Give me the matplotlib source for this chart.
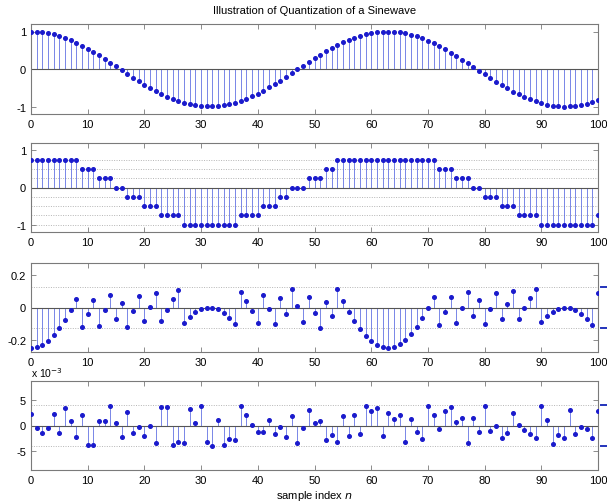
import matplotlib
matplotlib.use("Agg")
import matplotlib.pyplot as plt
import numpy as np

plt.rcParams['font.family'] = ['Liberation Sans', 'DejaVu Sans']

n = list(range(101))

# original sinewave samples
signal = [1.000, 0.995, 0.980, 0.955, 0.921, 0.878, 0.825, 0.765, 0.697, 0.622,
          0.540, 0.454, 0.362, 0.267, 0.170, 0.071, -0.029, -0.129, -0.227, -0.323,
          -0.416, -0.505, -0.589, -0.666, -0.737, -0.801, -0.857, -0.904, -0.942, -0.971,
          -0.990, -0.999, -0.998, -0.988, -0.967, -0.936, -0.897, -0.848, -0.791, -0.726,
          -0.654, -0.575, -0.490, -0.401, -0.307, -0.211, -0.112, -0.013, 0.087, 0.186,
          0.284, 0.378, 0.468, 0.554, 0.635, 0.709, 0.776, 0.835, 0.885, 0.927,
          0.960, 0.983, 0.997, 1.000, 0.993, 0.977, 0.950, 0.914, 0.869, 0.816,
          0.754, 0.685, 0.608, 0.526, 0.439, 0.347, 0.251, 0.153, 0.054, -0.046,
          -0.146, -0.244, -0.339, -0.431, -0.519, -0.602, -0.678, -0.747, -0.809, -0.863,
          -0.911, -0.948, -0.975, -0.992, -1.000, -0.997, -0.985, -0.962, -0.930, -0.889,
          -0.839]

# 3-bit quantized samples (second panel)
quantized = [0.75, 0.75, 0.75, 0.75, 0.75, 0.75, 0.75, 0.75, 0.75, 0.5,
             0.5, 0.5, 0.25, 0.25, 0.25, 0.0, 0.0, -0.25, -0.25, -0.25,
             -0.5, -0.5, -0.5, -0.75, -0.75, -0.75, -0.75, -1.0, -1.0, -1.0,
             -1.0, -1.0, -1.0, -1.0, -1.0, -1.0, -1.0, -0.75, -0.75, -0.75,
             -0.75, -0.5, -0.5, -0.5, -0.25, -0.25, 0.0, 0.0, 0.0, 0.25,
             0.25, 0.25, 0.5, 0.5, 0.75, 0.75, 0.75, 0.75, 0.75, 0.75,
             0.75, 0.75, 0.75, 0.75, 0.75, 0.75, 0.75, 0.75, 0.75, 0.75,
             0.75, 0.75, 0.5, 0.5, 0.5, 0.25, 0.25, 0.25, 0.0, 0.0,
             -0.25, -0.25, -0.25, -0.5, -0.5, -0.5, -0.75, -0.75, -0.75, -0.75,
             -1.0, -1.0, -1.0, -1.0, -1.0, -1.0, -1.0, -1.0, -1.0, -1.0,
             -0.75]

# quantization error of the 3-bit quantizer (third panel)
error3 = [-0.250, -0.245, -0.230, -0.205, -0.171, -0.128, -0.075, -0.015, 0.053, -0.122,
          -0.040, 0.046, -0.112, -0.018, 0.080, -0.071, 0.029, -0.121, -0.023, 0.073,
          -0.084, 0.005, 0.089, -0.084, -0.013, 0.051, 0.107, -0.096, -0.058, -0.029,
          -0.010, -0.001, -0.002, -0.012, -0.033, -0.064, -0.103, 0.098, 0.041, -0.024,
          -0.096, 0.075, -0.010, -0.099, 0.057, -0.039, 0.112, 0.012, -0.088, 0.064,
          -0.034, -0.128, 0.032, -0.054, 0.115, 0.041, -0.026, -0.085, -0.135, -0.177,
          -0.210, -0.233, -0.247, -0.250, -0.243, -0.227, -0.200, -0.164, -0.119, -0.066,
          -0.004, 0.065, -0.108, -0.026, 0.062, -0.097, -0.001, 0.097, -0.054, 0.046,
          -0.105, -0.007, 0.089, -0.069, 0.019, 0.102, -0.072, -0.003, 0.059, 0.113,
          -0.089, -0.052, -0.025, -0.008, 0.000, -0.003, -0.015, -0.038, -0.070, -0.111,
          0.089]

# fine quantization error, in units of 1e-3 (fourth panel)
error8 = [2.3, -0.5, -1.4, -0.4, 2.3, -1.5, 3.4, 0.8, -2.2, 2.0,
          -3.7, -3.8, 0.8, 0.9, 3.8, 0.4, -2.3, 2.7, -1.5, -0.2,
          -2.0, -0.1, -3.3, 3.6, 3.6, -3.8, -3.2, -3.4, 3.2, 0.4,
          3.8, -3.1, -3.9, 1.1, -3.8, -2.6, -2.8, 3.8, 2.0, 0.1,
          -1.3, -1.2, 1.1, -1.6, -0.3, -2.2, 1.9, -3.3, -0.5, 3.0,
          0.5, 0.9, -2.8, -1.8, -3.2, 1.8, -2.1, 2.0, -1.6, 3.8,
          2.8, 3.3, -2.1, 2.5, 1.3, 2.0, -3.2, 1.2, -1.3, -2.7,
          3.8, 2.1, -0.7, 2.8, 3.5, 0.6, 1.4, -3.4, 1.4, -1.2,
          3.7, -1.0, -0.1, -2.5, -1.4, 2.5, 0.1, -0.9, -1.6, -2.5,
          3.8, 1.0, -3.6, -1.9, -2.4, 3.0, -1.6, -0.3, -0.6, -2.4,
          2.8]

levels2 = [-1.0, -0.75, -0.5, -0.25, 0.25, 0.5, 0.75]
levels3 = [-0.125, 0.125]
levels4 = [-3.90625, 3.90625]

title = "Illustration of Quantization of a Sinewave"

W, H = 607, 502
fig = plt.figure(figsize=(W / 100, H / 100), dpi=100)

left = 31 / W
width = (598 - 31) / W
tops = [25, 144, 264, 382]
bots = [115, 233, 353, 471]

stem_col = '#5566e0'
mark_col = '#1a1acc'
frame_col = '#7a7a7a'

def make_ax(i):
    ax = fig.add_axes([left, 1 - bots[i] / H, width, (bots[i] - tops[i]) / H])
    for s in ax.spines.values():
        s.set_color(frame_col)
        s.set_linewidth(0.8)
    ax.tick_params(direction='in', length=3.5, width=0.6, color=frame_col,
                   labelsize=8, top=True, right=True, pad=3.5)
    ax.set_xlim(0, 100)
    ax.set_xticks(range(0, 101, 10))
    return ax

def stems(ax, y):
    ax.vlines(n, 0, y, colors=stem_col, linewidth=0.55, zorder=2)
    ax.plot(n, y, 'o', ms=2.6, color=mark_col, mec=mark_col, zorder=3)
    ax.axhline(0, color='#555555', lw=0.8, zorder=2.5)

def hlines(ax, levels):
    for lv in levels:
        ax.axhline(lv, color='#b5b5b5', lw=0.7, ls=(0, (1, 1.5)), zorder=1)

# panel 1
ax1 = make_ax(0)
stems(ax1, signal)
ax1.set_ylim(-1.2, 1.2)
ax1.set_yticks([-1, 0, 1])
ax1.set_yticklabels(['-1', '0', '1'])
ax1.set_title(title, fontsize=8, pad=8)

# panel 2
ax2 = make_ax(1)
hlines(ax2, levels2)
stems(ax2, quantized)
ax2.set_ylim(-1.2, 1.2)
ax2.set_yticks([-1, 0, 1])
ax2.set_yticklabels(['-1', '0', '1'])

# panel 3
ax3 = make_ax(2)
hlines(ax3, levels3)
stems(ax3, error3)
ax3.set_ylim(-0.275, 0.275)
ax3.set_yticks([-0.2, 0, 0.2])
ax3.set_yticklabels(['-0.2', '0', '0.2'])
for lv in levels3:
    ax3.plot([100.6, 103], [lv, lv], color='#2233bb', lw=1.4, clip_on=False)

# panel 4
ax4 = make_ax(3)
hlines(ax4, levels4)
stems(ax4, error8)
ax4.set_ylim(-8.6, 8.6)
ax4.set_yticks([-5, 0, 5])
ax4.set_yticklabels(['-5', '0', '5'])
for lv in levels4:
    ax4.plot([100.6, 103], [lv, lv], color='#2233bb', lw=1.4, clip_on=False)
ax4.text(0.0, (471 - 378.5) / 89, r'x 10$^{-3}$', transform=ax4.transAxes,
         fontsize=7.5, ha='left', va='baseline')
ax4.set_xlabel(r'sample index $n$', fontsize=8, labelpad=2)

fig.savefig('out.png', dpi=100)
